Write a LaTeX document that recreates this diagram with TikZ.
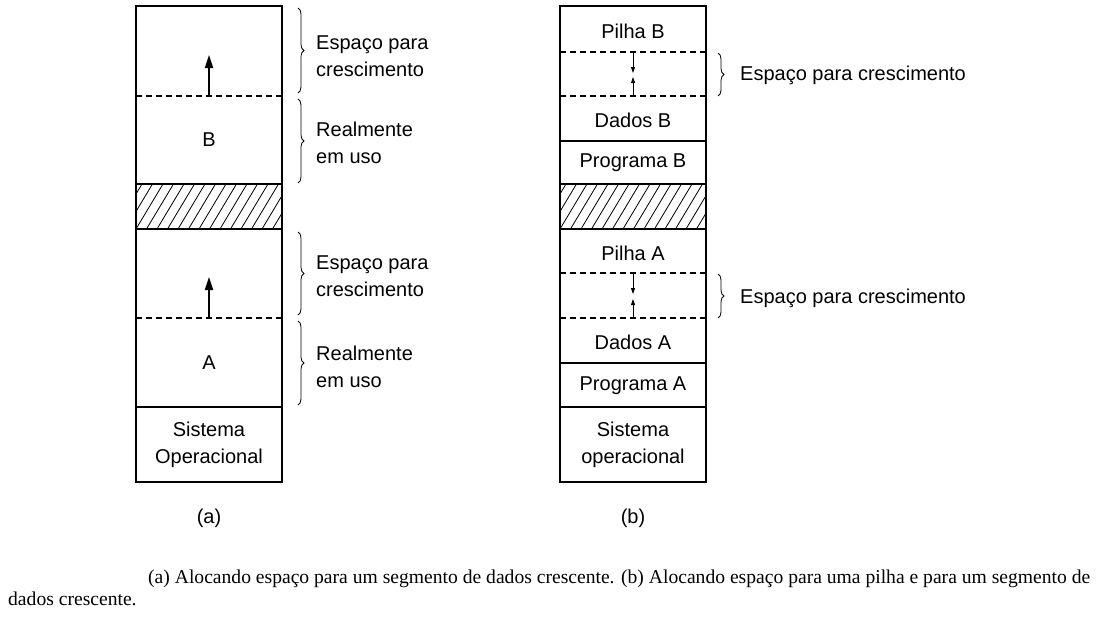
\documentclass[tikz,border=0pt]{standalone}
\usepackage{fontspec}
\setmainfont{Liberation Serif}
\setsansfont{Liberation Sans}
\usetikzlibrary{arrows.meta, decorations.pathreplacing, calc}

\tikzset{
  box/.style={line width=1.8pt},
  sep/.style={line width=1.5pt},
  dsep/.style={line width=1.1pt, dash pattern=on 6pt off 4pt},
  lbl/.style={font=\sffamily\fontsize{20}{27}\selectfont, align=center, inner sep=0pt},
  side/.style={font=\sffamily\fontsize{20}{27}\selectfont, align=left, anchor=west, inner sep=0pt},
  brc/.style={decorate, decoration={brace, amplitude=6pt}, line width=0.8pt},
  growarrow/.style={-{Triangle[length=13pt,width=8pt]}, line width=1.8pt},
  tinyarrow/.style={-{Triangle[length=6pt,width=4pt]}, line width=0.8pt},
}

\begin{document}
\begin{tikzpicture}[x=1pt, y=-1pt]
\useasboundingbox (0,0) rectangle (1102,616);

% (a) crescimento do segmento de dados
\draw[box] (136,6) rectangle (282,482);
\begin{scope}
\clip (136,184) rectangle (282,229);
\foreach \i in {-3,...,15}
  \draw[line width=0.8pt] (136+\i*10.5,229) -- ++(27,-45);
\end{scope}
\draw[sep] (136,184) -- (282,184);
\draw[sep] (136,229) -- (282,229);
\draw[sep] (136,407) -- (282,407);
\draw[dsep] (136,96) -- (282,96);
\draw[dsep] (136,318) -- (282,318);

\coordinate (gB) at (209,96);
\coordinate (gBtop) at (209,55);
\coordinate (gA) at (209,318);
\coordinate (gAtop) at (209,277);
\draw[growarrow] (gB) -- (gBtop);
\draw[growarrow] (gA) -- (gAtop);

\node[lbl] (progB) at (209,140) {B};
\node[lbl] (progA) at (209,363) {A};
\node[lbl] (soA) at (209,445) {Sistema\\Operacional};

\draw[brc] (298,8) -- (298,93);
\draw[brc] (298,99) -- (298,183);
\draw[brc] (298,232) -- (298,315);
\draw[brc] (298,321) -- (298,405);
\node[side] (espB) at (316,56) {Espaço para\\crescimento};
\node[side] (usoB) at (316,143) {Realmente\\em uso};
\node[side] (espA) at (316,276) {Espaço para\\crescimento};
\node[side] (usoA) at (316,367) {Realmente\\em uso};

\node[lbl] (capa) at (209,518) {(a)};

% (b) pilha e segmento de dados
\draw[box] (560,6) rectangle (706,482);
\begin{scope}
\clip (560,184) rectangle (706,229);
\foreach \i in {-3,...,15}
  \draw[line width=0.8pt] (560+\i*10.5,229) -- ++(27,-45);
\end{scope}
\foreach \y in {141,184,229,363,407}
  \draw[sep] (560,\y) -- (706,\y);
\foreach \y in {52,96,273,318}
  \draw[dsep] (560,\y) -- (706,\y);

\coordinate (pB) at (633,52);
\coordinate (pBend) at (633,73);
\coordinate (dB) at (633,96);
\coordinate (dBend) at (633,77);
\coordinate (pA) at (633,273);
\coordinate (pAend) at (633,294);
\coordinate (dA) at (633,318);
\coordinate (dAend) at (633,299);
\draw[tinyarrow] (pB) -- (pBend);
\draw[tinyarrow] (dB) -- (dBend);
\draw[tinyarrow] (pA) -- (pAend);
\draw[tinyarrow] (dA) -- (dAend);

\node[lbl] (pilhaB) at (633,31) {Pilha B};
\node[lbl] (dadosB) at (633,120) {Dados B};
\node[lbl] (progrB) at (633,163) {Programa B};
\node[lbl] (pilhaA) at (633,253) {Pilha A};
\node[lbl] (dadosA) at (633,342) {Dados A};
\node[lbl] (progrA) at (633,386) {Programa A};
\node[lbl] (soB) at (633,445) {Sistema\\operacional};

\draw[brc] (718,53) -- (718,96);
\draw[brc] (718,274) -- (718,318);
\node[side] (espb) at (740,75) {Espaço para crescimento};
\node[side] (espa) at (740,298) {Espaço para crescimento};

\node[lbl] (capb) at (633,518) {(b)};

% legenda
\node[anchor=west, align=left, inner sep=0pt, font=\fontsize{19.6}{22}\selectfont] (leg) at (8,588)
  {\hspace*{140pt}(a) Alocando espaço para um segmento de dados crescente. (b) Alocando espaço para uma pilha e para um segmento de\\dados crescente.};
\end{tikzpicture}
\end{document}
